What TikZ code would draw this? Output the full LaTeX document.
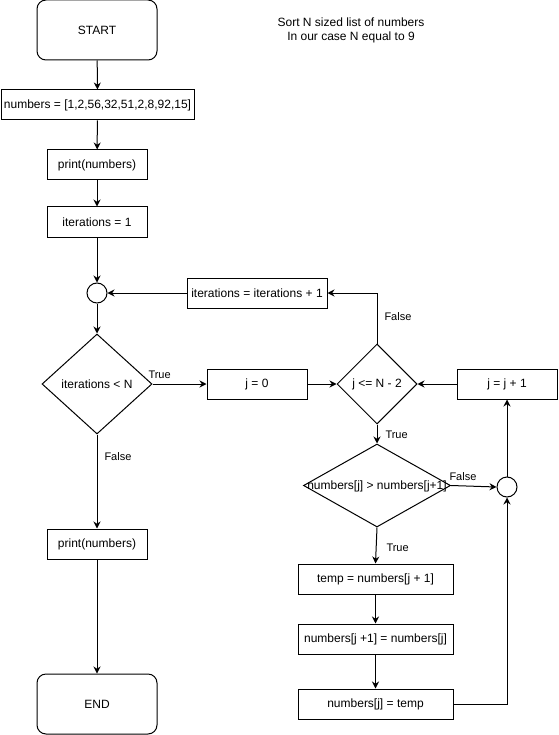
\documentclass[tikz,border=0pt]{standalone}
\usepackage{fontspec}
\setmainfont{Liberation Sans}
\usetikzlibrary{shapes.geometric,arrows.meta}
\begin{document}
\begin{tikzpicture}[x=1pt,y=-1pt,line width=1pt,
  box/.style={draw,rectangle,inner sep=0pt,font=\fontsize{12}{14}\selectfont},
  term/.style={draw,rectangle,rounded corners=9pt,minimum width=120pt,minimum height=60pt,inner sep=0pt,font=\fontsize{12}{14}\selectfont},
  dec/.style={draw,diamond,inner sep=0pt},
  circ/.style={draw,circle,minimum size=20pt,inner sep=0pt},
  txt/.style={inner sep=0pt,font=\fontsize{12}{14}\selectfont},
  lbl/.style={inner sep=0pt,font=\fontsize{11}{13}\selectfont},
  arr/.style={-{Stealth[length=7pt,width=7pt]}}]
\useasboundingbox (0,0) rectangle (558,735);
% left column
\node[term] (start) at (97,30) {START};
\node[box,minimum width=193pt,minimum height=30pt] (nums) at (97.5,105) {numbers = [1,2,56,32,51,2,8,92,15]};
\node[box,minimum width=100pt,minimum height=30pt] (print1) at (97,165) {print(numbers)};
\node[box,minimum width=100pt,minimum height=30pt] (it1) at (97,222) {iterations = 1};
\node[circ] (c1) at (97,293) {};
\node[dec,minimum width=110pt,minimum height=100pt] (d1) at (97,384) {};
\node[txt] (d1t) at (97,384) {iterations < N};
\node[box,minimum width=100pt,minimum height=30pt] (print2) at (97,544) {print(numbers)};
\node[term] (end) at (97,704) {END};
% note
\node[txt,align=center] (note) at (351,30.5) {Sort N sized list of numbers\\In our case N equal to 9};
% middle / right
\node[box,minimum width=140pt,minimum height=30pt] (itinc) at (257,293) {iterations = iterations + 1};
\node[box,minimum width=100pt,minimum height=30pt] (j0) at (257,384) {j = 0};
\node[dec,minimum width=80pt,minimum height=80pt] (d2) at (377,384) {};
\node[txt] (d2t) at (377,384) {j <= N - 2};
\node[box,minimum width=100pt,minimum height=30pt] (jinc) at (507,384) {j = j + 1};
\node[dec,minimum width=147pt,minimum height=83pt] (d3) at (377,485.5) {};
\node[txt] (d3t) at (377,486) {numbers[j] > numbers[j+1]};
\node[circ] (c2) at (507,487) {};
\node[box,minimum width=155pt,minimum height=30pt] (tmp) at (375.5,579) {temp = numbers[j + 1]};
\node[box,minimum width=155pt,minimum height=30pt] (sw1) at (375.5,639) {numbers[j +1] = numbers[j]};
\node[box,minimum width=155pt,minimum height=30pt] (sw2) at (375.5,704) {numbers[j] = temp};
% connectors
\draw[arr] (start) -- (nums);
\draw[arr] (nums) -- (print1);
\draw[arr] (print1) -- (it1);
\draw[arr] (it1) -- (c1);
\draw[arr] (c1) -- (d1);
\draw[arr] (d1) -- (print2);
\draw[arr] (print2) -- (end);
\draw[arr] (d1.east) -- (j0.west);
\draw[arr] (j0.east) -- (d2.west);
\draw[arr] (jinc.west) -- (d2.east);
\draw[arr] (d2.north) |- (itinc.east);
\draw[arr] (itinc.west) -- (c1.east);
\draw[arr] (d2.south) -- (d3.north);
\draw[arr] (d3.east) -- (c2.west);
\draw[arr] (d3.south) -- (tmp.north);
\draw[arr] (tmp) -- (sw1);
\draw[arr] (sw1) -- (sw2);
\draw[arr] (sw2.east) -| (c2.south);
\draw[arr] (c2.north) -- (jinc.south);
% labels
\node[lbl,anchor=west] (lt1) at (148,375) {True};
\node[lbl,anchor=west] (lf1) at (104,457) {False};
\node[lbl,anchor=west] (lf2) at (384,317) {False};
\node[lbl,anchor=west] (lt2) at (385,435) {True};
\node[lbl,anchor=west] (lf3) at (449,477) {False};
\node[lbl,anchor=west] (lt3) at (386,548) {True};
\end{tikzpicture}
\end{document}
